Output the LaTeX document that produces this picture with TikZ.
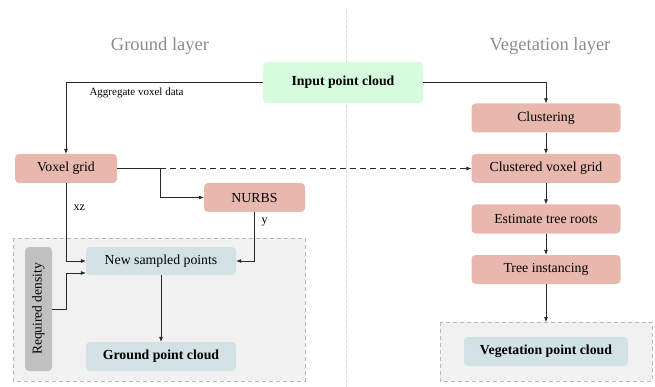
\documentclass[tikz,border=0pt]{standalone}
\usepackage{fontspec}
\setmainfont{Liberation Serif}
\usetikzlibrary{arrows.meta}
\definecolor{stepred}{RGB}{232,183,174}
\definecolor{inputgreen}{RGB}{213,252,220}
\definecolor{outblue}{RGB}{210,225,228}
\definecolor{densgray}{RGB}{192,192,192}
\definecolor{panelgray}{RGB}{241,241,241}
\definecolor{panelline}{RGB}{185,185,185}
\definecolor{titlegray}{RGB}{140,140,140}
\definecolor{lineblack}{RGB}{40,40,40}
\tikzset{
  box/.style={rounded corners=4pt, draw=none, inner sep=0pt, align=center,
    font=\fontsize{13.8}{15}\selectfont, text=black},
  procbox/.style={box, fill=stepred},
  outbox/.style={box, fill=outblue, font=\fontsize{13.8}{15}\selectfont\bfseries},
  panel/.style={draw=panelline, dash pattern=on 4pt off 3pt, fill=panelgray, line width=0.6pt},
  title/.style={font=\fontsize{18.5}{20}\selectfont, text=titlegray},
  conn/.style={draw=lineblack, line width=0.6pt, -{Latex[length=5pt,width=4pt]}},
  plain/.style={draw=lineblack, line width=0.6pt},
  lbl/.style={font=\fontsize{12}{13}\selectfont, text=black},
  smalllbl/.style={font=\fontsize{11}{12}\selectfont, text=black}
}
\begin{document}
\begin{tikzpicture}[x=1pt, y=-1pt]
\useasboundingbox (0,0) rectangle (655,387);

% divider between the two layers
\draw[gray!30, dash pattern=on 3pt off 2pt, line width=0.6pt] (346,10) -- (346,387);

% titles
\node[title] (tground) at (160,46) {Ground layer};
\node[title] (tveg) at (550,46) {Vegetation layer};

% output panels
\draw[panel] (13,238) rectangle (305,381);
\draw[panel] (440,322) rectangle (652,381);
\coordinate (vegtop) at (546,322);

% input
\node[box, fill=inputgreen, font=\fontsize{13.8}{15}\selectfont\bfseries,
  minimum width=160pt, minimum height=41pt] (input) at (343,82.5) {Input point cloud};

% ground layer nodes
\node[procbox, minimum width=102pt, minimum height=29pt] (voxel) at (66,168.5) {Voxel grid};
\node[procbox, minimum width=101pt, minimum height=29pt] (nurbs) at (254.5,197.5) {NURBS};
\node[box, fill=outblue, minimum width=150pt, minimum height=28pt] (sampled) at (161,261) {New sampled points};
\node[outbox, minimum width=150pt, minimum height=29pt] (ground) at (161,356.5) {Ground point cloud};
\node[box, fill=densgray, minimum width=124pt, minimum height=27pt, rotate=90,
  font=\fontsize{13.5}{15}\selectfont] (density) at (38.5,309) {Required density};

% vegetation layer nodes
\node[procbox, minimum width=149pt, minimum height=29pt] (clust) at (546,118) {Clustering};
\node[procbox, minimum width=149pt, minimum height=29pt] (cvoxel) at (546,168.5) {Clustered voxel grid};
\node[procbox, minimum width=149pt, minimum height=29pt] (roots) at (546,219) {Estimate tree roots};
\node[procbox, minimum width=149pt, minimum height=29pt] (inst) at (546,269.5) {Tree instancing};
\node[outbox, minimum width=164pt, minimum height=29pt] (vegout) at (546,351.5) {Vegetation point cloud};

% connectors: ground side
\draw[conn] (input.west) -| (voxel.north);
\node[smalllbl, anchor=west] (agg) at (86,93) {Aggregate voxel data};
\coordinate (split) at (160,168.5);
\draw[plain] (voxel.east) -- (split);
\draw[conn] (split) |- (nurbs.west);
\draw[conn, dash pattern=on 6pt off 4pt] (split) -- (cvoxel.west);
\draw[conn] (voxel.south) |- (sampled.west);
\node[lbl, anchor=west] (xz) at (70,208) {xz};
\draw[conn] (nurbs.south) |- (sampled.east);
\node[lbl, anchor=west] (ylbl) at (258,222) {y};
\draw[conn] (density.south) -| (66,273) -- (sampled.west |- 0,273);
\draw[conn] (sampled.south) -- (ground.north);

% connectors: vegetation side
\draw[conn] (input.east) -| (clust.north);
\draw[conn] (clust) -- (cvoxel);
\draw[conn] (cvoxel) -- (roots);
\draw[conn] (roots) -- (inst);
\draw[conn] (inst.south) -- (vegtop);
\end{tikzpicture}
\end{document}
